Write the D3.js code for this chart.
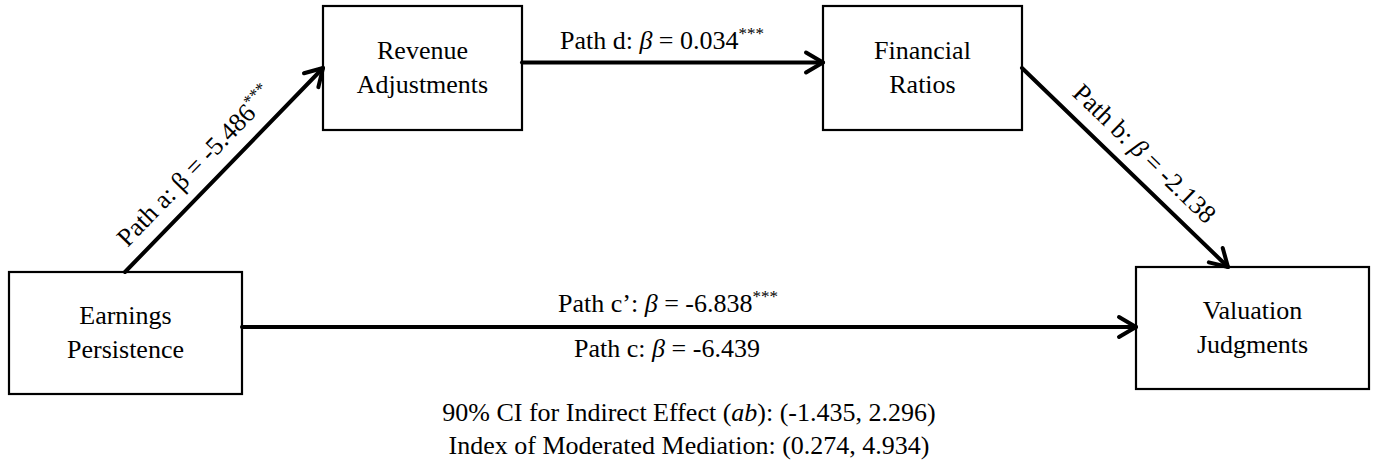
<!DOCTYPE html>
<html>
<head>
<meta charset="utf-8">
<script src="https://cdn.jsdelivr.net/npm/d3@7"></script>
<style>
  body { margin: 0; background: #fff; }
  svg { display: block; }
</style>
</head>
<body>
<svg id="chart" width="1378" height="470" font-family="'Liberation Serif', 'Times New Roman', Times, 'DejaVu Serif', serif"></svg>
<script>
// ---- Model data ----
const variableLines = [
  ["Earnings", "Persistence"],
  ["Revenue", "Adjustments"],
  ["Financial", "Ratios"],
  ["Valuation", "Judgments"]
];
const pathNames = ["Path a", "Path d", "Path b", "Path c\u2019", "Path c"];
const pathFrom  = [0, 1, 2, 0, 0];
const pathTo    = [1, 2, 3, 3, 3];
const betas     = [-5.486, 0.034, -2.138, -6.838, -6.439];
const stars     = ["***", "***", "", "***", ""];
const betaItalic = [false, true, true, true, true];
const summaryLabels = ["90% CI for Indirect Effect (", "Index of Moderated Mediation"];
const summaryItalic = ["ab", ""];
const ciLower = [-1.435, 0.274];
const ciUpper = [2.296, 4.934];

// ---- Layout ----
const W = 1378, H = 470;
const FONT = 26, SUP = 17;
const boxes = [
  { x: 9,    y: 272, w: 233, h: 122 },
  { x: 323,  y: 6,   w: 199, h: 124 },
  { x: 823,  y: 6,   w: 199, h: 124 },
  { x: 1136, y: 267, w: 233, h: 122 }
];
// anchor points of each drawn arrow (path c shares the c' arrow)
const arrows = [
  { x1: 125,  y1: 272, x2: 323,  y2: 68 },
  { x1: 522,  y1: 62.5, x2: 823, y2: 62.5 },
  { x1: 1022, y1: 68,  x2: 1228, y2: 267 },
  { x1: 242,  y1: 327, x2: 1136, y2: 327 },
  null
];
// label placement: rotated labels use distance along/offset from the arrow,
// horizontal labels are centred on cx with a baseline at y
const labelPos = [
  { along: 19, offset: 15 },
  { cx: 662, y: 49 },
  { along: 54, offset: 15 },
  { cx: 668, y: 312 },
  { cx: 667, y: 357 }
];

const fmt = v => (v < 0 ? "-" : "") + Math.abs(v).toFixed(3);

const svg = d3.select("#chart");
svg.append("rect").attr("width", W).attr("height", H).attr("fill", "#fff");

// ---- Boxes ----
const nodeG = svg.append("g");
nodeG.selectAll("rect.node")
  .data(boxes)
  .join("rect")
  .attr("class", "node")
  .attr("x", d => d.x).attr("y", d => d.y)
  .attr("width", d => d.w).attr("height", d => d.h)
  .attr("fill", "#fff").attr("stroke", "#000").attr("stroke-width", 2.2);

nodeG.selectAll("text.nodeLabel")
  .data(variableLines)
  .join("text")
  .attr("class", "nodeLabel")
  .attr("font-size", FONT)
  .attr("text-anchor", "middle")
  .each(function (lines, i) {
    const b = boxes[i];
    const cx = b.x + b.w / 2, cy = b.y + b.h / 2;
    d3.select(this).selectAll("tspan")
      .data(lines)
      .join("tspan")
      .attr("x", cx)
      .attr("y", (d, j) => cy - 9 + j * 33.5)
      .text(d => d);
  });

// ---- Arrows ----
const line = d3.line();
const arrowG = svg.append("g")
  .attr("fill", "none").attr("stroke", "#000")
  .attr("stroke-width", 4).attr("stroke-linecap", "round").attr("stroke-linejoin", "round");

arrows.forEach(a => {
  if (!a) return;
  arrowG.append("path").attr("d", line([[a.x1, a.y1], [a.x2, a.y2]]));
  const L = Math.hypot(a.x2 - a.x1, a.y2 - a.y1);
  const ux = (a.x2 - a.x1) / L, uy = (a.y2 - a.y1) / L;
  const nx = -uy, ny = ux;
  const back = 17, half = 10;
  arrowG.append("path").attr("d", line([
    [a.x2 - back * ux + half * nx, a.y2 - back * uy + half * ny],
    [a.x2, a.y2],
    [a.x2 - back * ux - half * nx, a.y2 - back * uy - half * ny]
  ]));
});

// ---- Path labels ----
function writeLabel(sel, i) {
  sel.append("tspan").text(pathNames[i] + ": ");
  sel.append("tspan").attr("font-style", betaItalic[i] ? "italic" : null).text("\u03B2");
  sel.append("tspan").text(" = " + fmt(betas[i]));
  if (stars[i]) {
    sel.append("tspan").attr("font-size", SUP).attr("dy", -10).text(stars[i]);
  }
}

const labelG = svg.append("g").attr("font-size", FONT);
pathNames.forEach((name, i) => {
  const p = labelPos[i];
  const t = labelG.append("text");
  if (p.cx !== undefined) {
    t.attr("x", p.cx).attr("y", p.y).attr("text-anchor", "middle");
  } else {
    const a = arrows[i];
    const L = Math.hypot(a.x2 - a.x1, a.y2 - a.y1);
    const ux = (a.x2 - a.x1) / L, uy = (a.y2 - a.y1) / L;
    // normal pointing to the upper side of the arrow
    let nx = uy, ny = -ux;
    if (ny > 0) { nx = -nx; ny = -ny; }
    const px = a.x1 + p.along * ux + p.offset * nx;
    const py = a.y1 + p.along * uy + p.offset * ny;
    const ang = Math.atan2(uy, ux) * 180 / Math.PI;
    t.attr("transform", `translate(${px},${py}) rotate(${ang})`);
  }
  writeLabel(t, i);
});

// ---- Summary statistics ----
const summaryG = svg.append("g").attr("font-size", FONT).attr("text-anchor", "middle");
summaryLabels.forEach((lab, i) => {
  const t = summaryG.append("text").attr("x", 689).attr("y", 421 + i * 33);
  t.append("tspan").text(lab);
  if (summaryItalic[i]) {
    t.append("tspan").attr("font-style", "italic").text(summaryItalic[i]);
    t.append("tspan").text(")");
  }
  t.append("tspan").text(": (" + fmt(ciLower[i]) + ", " + fmt(ciUpper[i]) + ")");
});
</script>
</body>
</html>
